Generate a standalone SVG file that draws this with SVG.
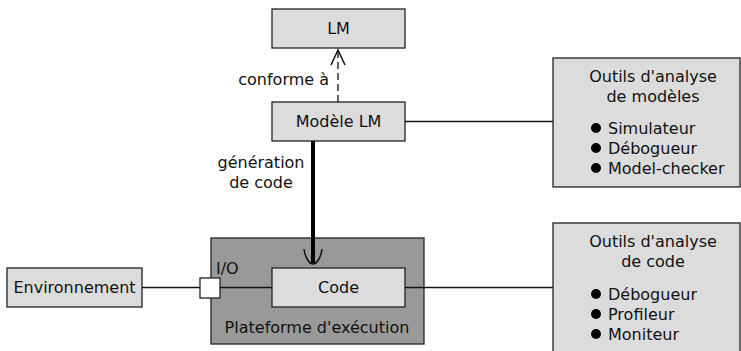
<svg xmlns="http://www.w3.org/2000/svg" width="741" height="351" viewBox="0 0 741 351">
  <style>
    text { font-family: "DejaVu Sans", "Liberation Sans", sans-serif; font-size: 16px; fill: #111; }
    .box { fill: #dcdcdc; stroke: #222; stroke-width: 1.3; }
    .plat { fill: #999999; stroke: #222; stroke-width: 1.3; }
    .port { fill: #ffffff; stroke: #222; stroke-width: 1.3; }
    .wire { fill: none; stroke: #111; stroke-width: 1.3; }
    .head { fill: none; stroke: #111; stroke-width: 1.5; }
    .mid { text-anchor: middle; }
  </style>

  <g id="lm">
    <rect class="box" x="272" y="9" width="133" height="39"/>
    <text x="338.5" y="34" class="mid">LM</text>
  </g>

  <g id="modele-lm">
    <rect class="box" x="272" y="102" width="133" height="39"/>
    <text x="338.5" y="127" class="mid">Modèle LM</text>
  </g>

  <g id="plateforme">
    <rect class="plat" x="211" y="238" width="213" height="106"/>
    <text x="317" y="333" class="mid">Plateforme d'exécution</text>
  </g>

  <g id="io">
    <rect class="port" x="200" y="278" width="20" height="20"/>
    <text x="216" y="274">I/O</text>
  </g>

  <g id="code">
    <rect class="box" x="272" y="268" width="133" height="39"/>
    <text x="338.5" y="293" class="mid">Code</text>
  </g>

  <g id="environnement">
    <rect class="box" x="7" y="268" width="135" height="39"/>
    <text x="74.5" y="293" class="mid">Environnement</text>
  </g>

  <g id="outils-modeles">
    <rect class="box" x="553" y="58" width="187" height="129"/>
    <text x="653" y="82" class="mid">Outils d'analyse</text>
    <text x="653" y="102" class="mid">de modèles</text>
    <circle cx="596" cy="128" r="5" fill="#000"/>
    <text x="608" y="134">Simulateur</text>
    <circle cx="596" cy="148" r="5" fill="#000"/>
    <text x="608" y="154">Débogueur</text>
    <circle cx="596" cy="168" r="5" fill="#000"/>
    <text x="608" y="174">Model-checker</text>
  </g>

  <g id="outils-code">
    <rect class="box" x="553" y="223" width="187" height="140"/>
    <text x="653" y="247" class="mid">Outils d'analyse</text>
    <text x="653" y="267" class="mid">de code</text>
    <circle cx="596" cy="294" r="5" fill="#000"/>
    <text x="608" y="300">Débogueur</text>
    <circle cx="596" cy="314" r="5" fill="#000"/>
    <text x="608" y="320">Profileur</text>
    <circle cx="596" cy="334" r="5" fill="#000"/>
    <text x="608" y="340">Moniteur</text>
  </g>

  <!-- connectors, drawn over the boxes -->
  <g id="connectors">
    <line class="wire" x1="338" y1="102" x2="338" y2="50" stroke-dasharray="7,4"/>
    <path class="head" d="M331,65 L338,50 L345,65"/>
    <line x1="313" y1="141" x2="313" y2="263" stroke="#000" stroke-width="4"/>
    <path class="head" d="M304,249 C305,257 309,264 313,264 C317,264 321,257 322,249"/>
    <line class="wire" x1="405" y1="121.5" x2="553" y2="121.5"/>
    <line class="wire" x1="142" y1="287.5" x2="200" y2="287.5"/>
    <line class="wire" x1="220" y1="287.5" x2="272" y2="287.5"/>
    <line class="wire" x1="405" y1="287.5" x2="553" y2="287.5"/>
    <text x="329" y="85" text-anchor="end">conforme à</text>
    <text x="261" y="168" class="mid">génération</text>
    <text x="261" y="188" class="mid">de code</text>
  </g>
</svg>
